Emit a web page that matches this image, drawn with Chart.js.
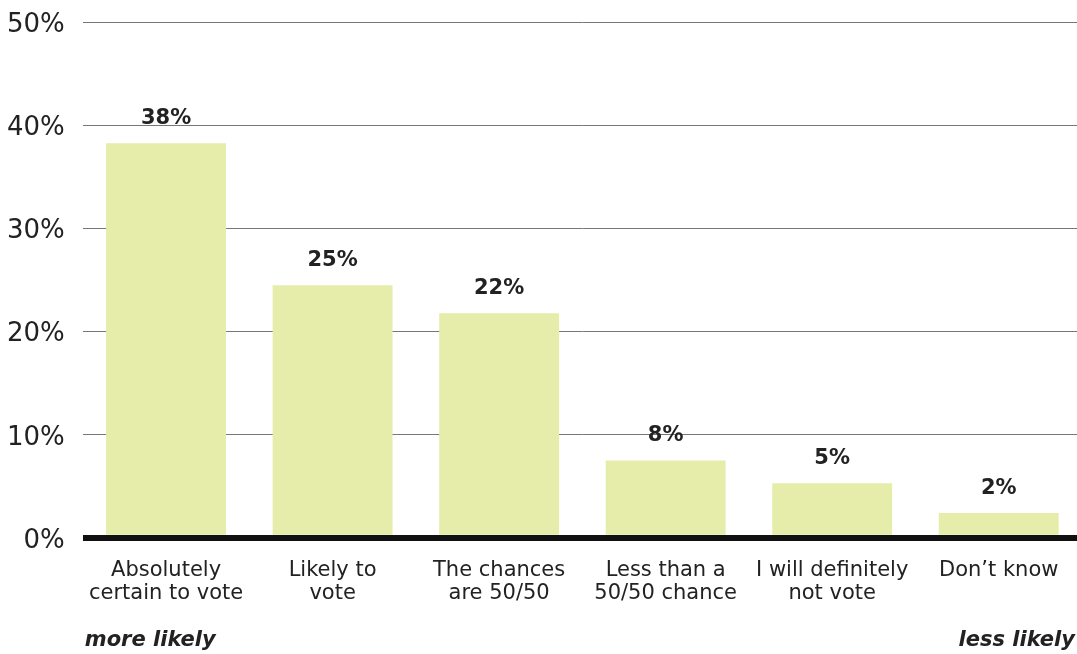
<!DOCTYPE html>
<html>
<head>
<meta charset="utf-8">
<script src="https://cdn.jsdelivr.net/npm/chart.js@4"></script>
<style>
  html, body { margin: 0; padding: 0; background: #fff; overflow: hidden; }
  #wrap { width: 1100px; height: 665px; position: absolute; left: -18px; top: -11px; }
</style>
</head>
<body>
<div id="wrap"><canvas id="grafico"></canvas></div>
<script>
// Dados
const categorias = [
  ["Absolutely", "certain to vote"],
  ["Likely to", "vote"],
  ["The chances", "are 50/50"],
  ["Less than a", "50/50 chance"],
  ["I will definitely", "not vote"],
  ["Don\u2019t know"]
];
const valores = [38.3, 24.5, 21.8, 7.5, 5.3, 2.4];
const rotulos = ["38%", "25%", "22%", "8%", "5%", "2%"];
const ticksY = [0, 10, 20, 30, 40, 50];

const fonte = "'DejaVu Sans', 'Open Sans', sans-serif";

// rótulos em cima das barras
const rotulosBarras = {
  id: 'rotulosBarras',
  afterDatasetsDraw(chart) {
    const ctx = chart.ctx;
    const meta = chart.getDatasetMeta(0);
    ctx.save();
    ctx.font = "bold 21px " + fonte;
    ctx.fillStyle = '#222';
    ctx.textAlign = 'center';
    ctx.textBaseline = 'middle';
    meta.data.forEach((bar, i) => {
      ctx.fillText(rotulos[i], bar.x, bar.y - 25);
    });
    ctx.restore();
  }
};

// "more likely" / "less likely"
const legendaEixo = {
  id: 'legendaEixo',
  afterDraw(chart) {
    const ctx = chart.ctx;
    const area = chart.chartArea;
    ctx.save();
    ctx.font = "italic bold 21px " + fonte;
    ctx.fillStyle = '#222';
    ctx.textBaseline = 'middle';
    ctx.textAlign = 'left';
    ctx.fillText("more likely", area.left + 2, area.bottom + 103);
    ctx.textAlign = 'right';
    ctx.fillText("less likely", chart.width - 7, area.bottom + 103);
    ctx.restore();
  }
};

new Chart(document.getElementById('grafico'), {
  type: 'bar',
  data: {
    labels: categorias,
    datasets: [{
      data: valores,
      backgroundColor: '#e6edab',
      borderWidth: 0,
      categoryPercentage: 1,
      barPercentage: 0.72
    }]
  },
  options: {
    responsive: true,
    maintainAspectRatio: false,
    animation: false,
    layout: { padding: { top: 0, bottom: 36, left: 7, right: 0 } },
    plugins: { legend: { display: false }, tooltip: { enabled: false } },
    scales: {
      x: {
        grid: { display: false },
        border: { display: false },
        ticks: {
          color: '#222',
          font: { family: fonte, size: 21, lineHeight: 1.1 },
          padding: 13,
          maxRotation: 0,
          autoSkip: false
        }
      },
      y: {
        min: 0,
        max: 50,
        afterBuildTicks(axis) { axis.ticks = ticksY.map(v => ({ value: v })); },
        border: { display: false },
        grid: {
          drawTicks: false,
          color: ctx => ctx.tick && ctx.tick.value === 0 ? '#111' : '#777',
          lineWidth: ctx => ctx.tick && ctx.tick.value === 0 ? 6 : 1
        },
        ticks: {
          color: '#222',
          font: { family: fonte, size: 26 },
          padding: 18,
          labelOffset: 3,
          callback: v => v + '%'
        }
      }
    }
  },
  plugins: [rotulosBarras, legendaEixo]
});
</script>
</body>
</html>
